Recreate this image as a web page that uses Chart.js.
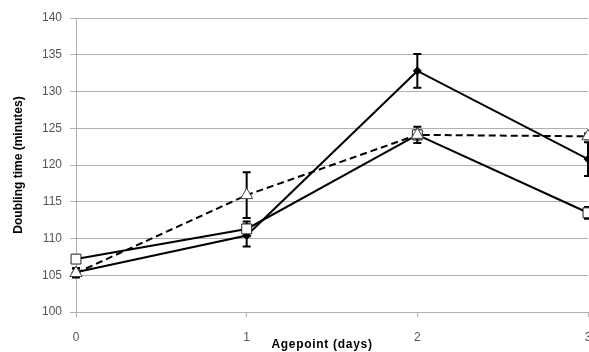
<!DOCTYPE html>
<html>
<head>
<meta charset="utf-8">
<script src="https://cdn.jsdelivr.net/npm/chart.js@4/dist/chart.umd.min.js"></script>
<style>
  html, body { margin: 0; padding: 0; background: #fff; }
  #wrap { width: 589px; height: 352px; }
</style>
</head>
<body>
<div id="wrap"><canvas id="c" width="589" height="352"></canvas></div>
<script>
// Agepoints (days)
const agepoints = [0, 1, 2, 3];

// Doubling time (minutes), mean and error per agepoint
const seriesA = [105.4, 110.4, 132.8, 120.8];   // filled diamonds, solid line
const errorsA = [0.6, 1.5, 2.3, 2.3];
const seriesB = [107.2, 111.3, 124.1, 113.5];   // open squares, solid line
const errorsB = [0.3, 1.0, 0.6, 0.8];
const seriesC = [105.3, 115.9, 124.1, 123.9];   // open triangles, dashed line
const errorsC = [0.6, 3.1, 1.1, 0.4];

const yTicks = [100, 105, 110, 115, 120, 125, 130, 135, 140];
const xTitle = 'Agepoint (days)';
const yTitle = 'Doubling time (minutes)';

const toPoints = (vals) => agepoints.map((x, i) => ({ x: x, y: vals[i] }));

// Vertical error bars with caps, drawn under each series' own line and markers
const errorBars = {
  id: 'errorBars',
  beforeDatasetDraw(chart, args) {
    const ds = chart.data.datasets[args.index];
    if (!ds.errors) return;
    const ctx = chart.ctx;
    const yScale = chart.scales.y;
    ctx.save();
    ctx.strokeStyle = '#000';
    ctx.lineWidth = 2;
    args.meta.data.forEach((pt, i) => {
      const v = ds.data[i].y;
      const e = ds.errors[i];
      if (!e) return;
      const yTop = yScale.getPixelForValue(v + e);
      const yBot = yScale.getPixelForValue(v - e);
      const x = pt.x;
      ctx.beginPath();
      ctx.moveTo(x, yTop); ctx.lineTo(x, yBot);
      ctx.moveTo(x - 4, yTop); ctx.lineTo(x + 4, yTop);
      ctx.moveTo(x - 4, yBot); ctx.lineTo(x + 4, yBot);
      ctx.stroke();
    });
    ctx.restore();
  }
};

// Horizontal axis title
const xAxisTitle = {
  id: 'xAxisTitle',
  afterDraw(chart) {
    const ctx = chart.ctx;
    const area = chart.chartArea;
    ctx.save();
    ctx.font = 'bold 12px "Liberation Sans", Arial, sans-serif';
    if ('letterSpacing' in ctx) ctx.letterSpacing = '0.7px';
    ctx.fillStyle = '#000';
    ctx.textAlign = 'center';
    ctx.textBaseline = 'middle';
    ctx.fillText(xTitle, (area.left + area.right) / 2 - 10, 345);
    ctx.restore();
  }
};

const gridColor = '#b0b0b0';
const tickFont = { family: '"Liberation Sans", Arial, sans-serif', size: 12 };

new Chart(document.getElementById('c'), {
  type: 'line',
  data: {
    datasets: [
      {
        label: 'C',
        data: toPoints(seriesC),
        errors: errorsC,
        borderColor: '#000',
        borderWidth: 2,
        borderDash: [7, 4],
        pointStyle: 'triangle',
        pointRadius: 7,
        pointBackgroundColor: '#fff',
        pointBorderColor: '#444',
        pointBorderWidth: 1,
        tension: 0,
        clip: false,
        order: 0
      },
      {
        label: 'B',
        data: toPoints(seriesB),
        errors: errorsB,
        borderColor: '#000',
        borderWidth: 2,
        pointStyle: 'rect',
        pointRadius: 7,
        pointBackgroundColor: '#fff',
        pointBorderColor: '#222',
        pointBorderWidth: 1,
        tension: 0,
        clip: false,
        order: 1
      },
      {
        label: 'A',
        data: toPoints(seriesA),
        errors: errorsA,
        borderColor: '#000',
        borderWidth: 2,
        pointStyle: 'rectRot',
        pointRadius: 4,
        pointBackgroundColor: '#000',
        pointBorderColor: '#000',
        pointBorderWidth: 1,
        tension: 0,
        clip: false,
        order: 2
      }
    ]
  },
  options: {
    responsive: false,
    animation: false,
    devicePixelRatio: 1,
    layout: { autoPadding: false, padding: { top: 18, right: 1, left: 0, bottom: 0 } },
    plugins: {
      legend: { display: false },
      tooltip: { enabled: false }
    },
    scales: {
      x: {
        type: 'linear',
        min: agepoints[0],
        max: agepoints[agepoints.length - 1],
        afterBuildTicks(scale) {
          scale.ticks = agepoints.map(v => ({ value: v }));
        },
        afterFit(scale) {
          scale.height = 40;
          scale.paddingLeft = 0;
          scale.paddingRight = 0;
        },
        ticks: {
          color: '#555',
          font: tickFont,
          padding: 13,
          maxRotation: 0,
          autoSkip: false
        },
        grid: {
          drawOnChartArea: false,
          drawTicks: true,
          tickLength: 5,
          color: gridColor
        },
        border: { color: gridColor, width: 1 }
      },
      y: {
        min: yTicks[0],
        max: yTicks[yTicks.length - 1],
        afterBuildTicks(scale) {
          scale.ticks = yTicks.map(v => ({ value: v }));
        },
        afterFit(scale) {
          scale.width = 76;
          scale.paddingTop = 0;
          scale.paddingBottom = 0;
        },
        ticks: {
          color: '#555',
          font: tickFont,
          padding: 8
        },
        grid: {
          color: gridColor,
          lineWidth: 1,
          tickLength: 6
        },
        border: { color: gridColor, width: 1 },
        title: {
          display: true,
          text: yTitle,
          color: '#000',
          font: { family: '"Liberation Sans", Arial, sans-serif', size: 12, weight: 'bold' },
          padding: { top: 11, bottom: 0 }
        }
      }
    }
  },
  plugins: [errorBars, xAxisTitle]
});
</script>
</body>
</html>
